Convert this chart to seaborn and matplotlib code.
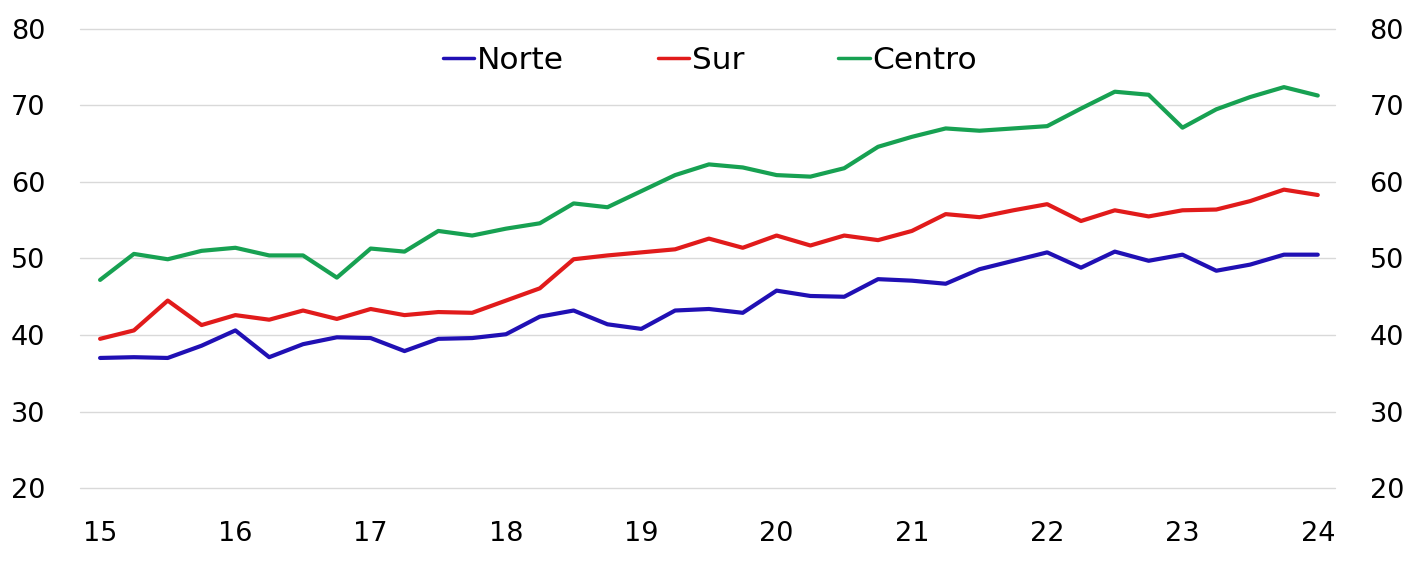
import numpy as np
import pandas as pd
import matplotlib
matplotlib.use("Agg")
import matplotlib.pyplot as plt
import seaborn as sns

# quarterly observations, 2015Q1 .. 2024Q1
periods = np.arange(15, 24.01, 0.25)

norte = [37.0, 37.1, 37.0, 38.6, 40.6, 37.1, 38.8, 39.7, 39.6, 37.9, 39.5, 39.6,
         40.1, 42.4, 43.2, 41.4, 40.8, 43.2, 43.4, 42.9, 45.8, 45.1, 45.0, 47.3,
         47.1, 46.7, 48.6, 49.7, 50.8, 48.8, 50.9, 49.7, 50.5, 48.4, 49.2, 50.5, 50.5]
sur = [39.5, 40.6, 44.5, 41.3, 42.6, 42.0, 43.2, 42.1, 43.4, 42.6, 43.0, 42.9,
       44.5, 46.1, 49.9, 50.4, 50.8, 51.2, 52.6, 51.4, 53.0, 51.7, 53.0, 52.4,
       53.6, 55.8, 55.4, 56.3, 57.1, 54.9, 56.3, 55.5, 56.3, 56.4, 57.5, 59.0, 58.3]
centro = [47.2, 50.6, 49.9, 51.0, 51.4, 50.4, 50.4, 47.5, 51.3, 50.9, 53.6, 53.0,
          53.9, 54.6, 57.2, 56.7, 58.8, 60.9, 62.3, 61.9, 60.9, 60.7, 61.8, 64.6,
          65.9, 67.0, 66.7, 67.0, 67.3, 69.6, 71.8, 71.4, 67.1, 69.5, 71.1, 72.4, 71.3]

regions = ["Norte", "Sur", "Centro"]
colors = ["#2010b4", "#e11b1b", "#17a152"]
year_ticks = [15, 16, 17, 18, 19, 20, 21, 22, 23, 24]
y_ticks = [20, 30, 40, 50, 60, 70, 80]

df = pd.DataFrame({"t": periods, "Norte": norte, "Sur": sur, "Centro": centro})
long = df.melt(id_vars="t", var_name="region", value_name="valor")

sns.set_theme(style="white")
plt.rcParams["font.family"] = ["DejaVu Sans"]
plt.rcParams["text.color"] = "black"
plt.rcParams["xtick.color"] = "black"
plt.rcParams["ytick.color"] = "black"

fig = plt.figure(figsize=(14.17, 5.67), dpi=100)
ax = fig.add_axes([0.0565, 0.1393, 0.8855, 0.8096])

sns.lineplot(data=long, x="t", y="valor", hue="region", hue_order=regions,
             palette=colors, linewidth=3, ax=ax)

ax.set_xlim(14.852, 24.126)
ax.set_ylim(20, 80)
ax.set_xticks(year_ticks)
ax.set_xticklabels([str(v) for v in year_ticks])
ax.set_yticks(y_ticks)
ax.set_yticklabels([str(v) for v in y_ticks])
ax.set_xlabel("")
ax.set_ylabel("")

ax.yaxis.grid(True, color="#d9d9d9", linewidth=1)
ax.xaxis.grid(False)
for g in ax.get_ygridlines():
    g.set_clip_on(False)
for s in ax.spines.values():
    s.set_visible(False)

ax.tick_params(axis="y", which="both", left=False, right=False,
               labelleft=True, labelright=True, labelsize=19.5, pad=19,
               labelcolor="black")
ax.tick_params(axis="x", bottom=False, labelsize=19.5, pad=17.5,
               labelcolor="black")

leg = ax.legend(loc="center", bbox_to_anchor=(0.502, 0.932), ncol=3, frameon=False,
                fontsize=22.5, handlelength=1.0, handletextpad=0.1,
                columnspacing=3.0)
for h in leg.get_lines():
    h.set_linewidth(2.5)
for t in leg.get_texts():
    t.set_color("black")

fig.savefig("out.png", dpi=100)
